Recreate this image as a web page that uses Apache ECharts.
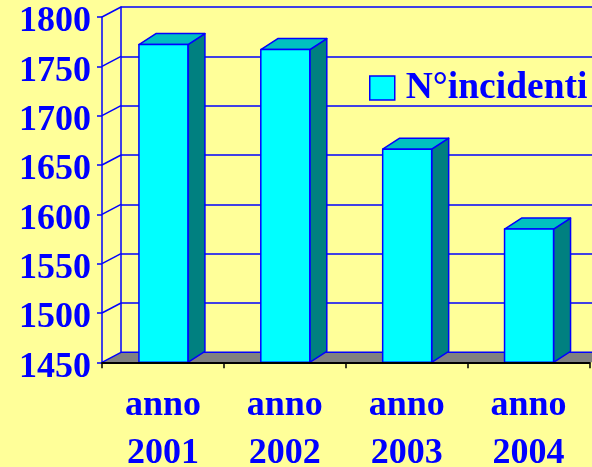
<!DOCTYPE html>
<html>
<head>
<meta charset="utf-8">
<script src="https://cdn.jsdelivr.net/npm/echarts@6/dist/echarts.min.js"></script>
<style>
  html, body { margin: 0; padding: 0; background: #FFFF99; }
  #chart { width: 592px; height: 467px; }
</style>
</head>
<body>
<div id="chart"></div>
<script>
// dati
const categories = ['anno\n2001', 'anno\n2002', 'anno\n2003', 'anno\n2004'];
const incidenti = [1772, 1767, 1666, 1585];
const yTicks = [1450, 1500, 1550, 1600, 1650, 1700, 1750, 1800];
const seriesName = 'N°incidenti';

const FONT = "'Times New Roman', 'Liberation Serif', serif";
const BLUE = '#0000FF';
// profondità 3D (muro di fondo e barre)
const WALL_DX = 19, WALL_DY = -10;
const BAR_DX = 17, BAR_DY = -11;
const LABEL_SHIFT = 5; // etichette asse y un po' più in basso, come nell'originale

const yMin = yTicks[0];
const yMax = yTicks[yTicks.length - 1];
const yStep = yTicks[1] - yTicks[0];

const el = document.getElementById('chart');
const chart = echarts.init(el, null, { renderer: 'canvas' });

function renderBar(params, api) {
  const i = api.value(0);
  const v = api.value(1);
  const top = api.coord([i, v]);
  const base = api.coord([i, yMin]);
  const bw = api.size([1, 0])[0];
  const x0 = base[0] - bw * 0.197;
  const x1 = base[0] + bw * 0.205;
  const yt = top[1], yb = base[1];
  const line = { stroke: BLUE, lineWidth: 1.5, lineJoin: 'round' };
  return {
    type: 'group',
    children: [
      {
        type: 'polygon',
        shape: { points: [[x1, yt], [x1 + BAR_DX, yt + BAR_DY], [x1 + BAR_DX, yb + BAR_DY], [x1, yb]] },
        style: Object.assign({ fill: '#008080' }, line)
      },
      {
        type: 'polygon',
        shape: { points: [[x0, yt], [x0 + BAR_DX, yt + BAR_DY], [x1 + BAR_DX, yt + BAR_DY], [x1, yt]] },
        style: Object.assign({ fill: '#00C0C0' }, line)
      },
      {
        type: 'polygon',
        shape: { points: [[x0, yt], [x1, yt], [x1, yb], [x0, yb]] },
        style: Object.assign({ fill: '#00FFFF' }, line)
      }
    ]
  };
}

function renderFloor(params, api) {
  const cs = params.coordSys;
  const yb = cs.y + cs.height;
  const xl = cs.x, xr = cs.x + cs.width + WALL_DX + 10;
  return {
    type: 'group',
    children: [
      {
        type: 'polygon',
        shape: { points: [[xl, yb], [xr, yb], [xr, yb + WALL_DY], [xl + WALL_DX, yb + WALL_DY]] },
        style: { fill: '#808080' }
      },
      {
        type: 'line',
        shape: { x1: xl + WALL_DX, y1: yb + WALL_DY, x2: xr, y2: yb + WALL_DY },
        style: { stroke: BLUE, lineWidth: 1.5 }
      }
    ]
  };
}

function renderSide(params, api) {
  const cs = params.coordSys;
  const y = api.coord([0, api.value(0)])[1];
  return {
    type: 'line',
    shape: { x1: cs.x, y1: y, x2: cs.x + WALL_DX, y2: y + WALL_DY },
    style: { stroke: BLUE, lineWidth: 1.5 }
  };
}

const GRID_H = 345.3, GRID_W = 487.5;

chart.setOption({
  backgroundColor: '#FFFF99',
  animation: false,
  grid: [
    { left: 102, top: 17, width: GRID_W, height: GRID_H, outerBoundsMode: 'none' },
    { left: 102 + WALL_DX, top: 17 + WALL_DY, width: GRID_W, height: GRID_H, outerBoundsMode: 'none' },
    { left: 102, top: 17 + LABEL_SHIFT, width: GRID_W, height: GRID_H, outerBoundsMode: 'none' }
  ],
  legend: {
    data: [{
      name: seriesName,
      itemStyle: { color: '#00FFFF', borderColor: BLUE, borderWidth: 1.5 }
    }],
    icon: 'rect',
    left: 369,
    top: 69,
    padding: 0,
    itemWidth: 25,
    itemHeight: 24,
    textStyle: {
      color: BLUE, fontFamily: FONT, fontWeight: 'bold', fontSize: 37.5,
      padding: [0, 0, 0, 6]
    }
  },
  xAxis: [
    {
      type: 'category',
      gridIndex: 0,
      data: categories,
      z: 5,
      axisLine: { lineStyle: { color: '#000000', width: 2 } },
      axisTick: { show: true, length: 6, lineStyle: { color: '#000000', width: 1.5 } },
      axisLabel: {
        color: BLUE, fontFamily: FONT, fontWeight: 'bold', fontSize: 36,
        lineHeight: 48, margin: 19, interval: 0
      }
    },
    { type: 'category', gridIndex: 1, data: categories, show: false },
    { type: 'category', gridIndex: 2, data: categories, show: false }
  ],
  yAxis: [
    {
      type: 'value',
      gridIndex: 0,
      min: yMin, max: yMax, interval: yStep,
      z: 5,
      axisLine: { show: true, lineStyle: { color: BLUE, width: 1.5 } },
      axisTick: { show: true, length: 5, lineStyle: { color: BLUE, width: 1.5 } },
      splitLine: { show: false },
      axisLabel: { show: false }
    },
    {
      type: 'value',
      gridIndex: 1,
      min: yMin, max: yMax, interval: yStep,
      axisLine: { show: true, lineStyle: { color: BLUE, width: 1.5 } },
      axisTick: { show: false },
      axisLabel: { show: false },
      splitLine: { show: true, lineStyle: { color: BLUE, width: 1.5 } }
    },
    {
      // solo etichette
      type: 'value',
      gridIndex: 2,
      min: yMin, max: yMax, interval: yStep,
      axisLine: { show: false },
      axisTick: { show: false },
      splitLine: { show: false },
      axisLabel: {
        color: BLUE, fontFamily: FONT, fontWeight: 'bold', fontSize: 36, margin: 11,
        formatter: v => String(v)
      }
    }
  ],
  series: [
    {
      type: 'custom',
      name: 'floor',
      xAxisIndex: 0, yAxisIndex: 0,
      z: 1,
      silent: true,
      renderItem: renderFloor,
      data: [[0]]
    },
    {
      type: 'custom',
      name: 'side',
      xAxisIndex: 0, yAxisIndex: 0,
      z: 1,
      silent: true,
      renderItem: renderSide,
      data: yTicks.map(v => [v])
    },
    {
      type: 'custom',
      name: seriesName,
      xAxisIndex: 0, yAxisIndex: 0,
      z: 3,
      itemStyle: { color: '#00FFFF', borderColor: BLUE },
      renderItem: renderBar,
      data: incidenti.map((v, i) => [i, v])
    }
  ]
});
window.addEventListener('resize', () => chart.resize());
</script>
</body>
</html>
